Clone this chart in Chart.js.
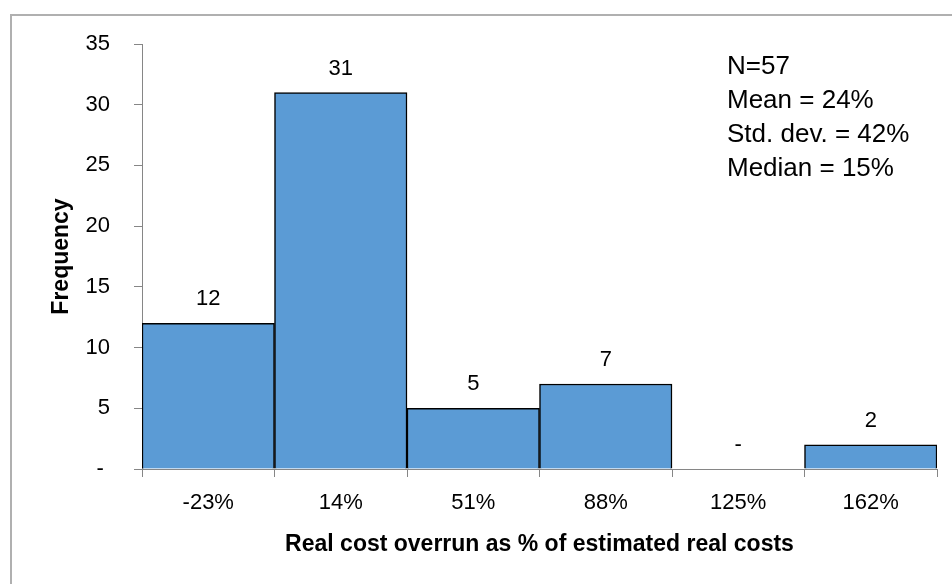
<!doctype html>
<html lang="en">
<head>
<meta charset="utf-8" />
<title>Real cost overrun histogram</title>
<style>
  html, body { margin: 0; padding: 0; background: #fff; }
  .chart-container { position: relative; width: 952px; height: 584px; }
</style>
</head>
<body>
<div class="chart-container">
  <canvas id="overrun" width="952" height="584"></canvas>
</div>
<script src="https://cdn.jsdelivr.net/npm/chart.js@4.4.1/dist/chart.umd.min.js"></script>
<script>
const categories = ["-23%", "14%", "51%", "88%", "125%", "162%"];
const frequencies = [12, 31, 5, 7, 0, 2];
const yTicks = [0, 5, 10, 15, 20, 25, 30, 35];
const statsLines = ["N=57", "Mean = 24%", "Std. dev. = 42%", "Median = 15%"];
const xTitle = "Real cost overrun as % of estimated real costs";
const yTitle = "Frequency";

const family = "'Liberation Sans', Arial, sans-serif";
const axisGray = "#868686";

// outer frame around the whole chart, like the Excel chart border
const framePlugin = {
  id: "frame",
  beforeDraw(chart) {
    const ctx = chart.ctx;
    ctx.save();
    ctx.strokeStyle = "#b0b0b0";
    ctx.lineWidth = 2;
    ctx.strokeRect(11, 15, 1000, 1000);
    ctx.restore();
  }
};

// value labels above each bar, "-" for empty bins
const valueLabels = {
  id: "valueLabels",
  afterDatasetsDraw(chart) {
    const ctx = chart.ctx;
    const meta = chart.getDatasetMeta(0);
    ctx.save();
    ctx.font = "22px " + family;
    ctx.fillStyle = "#000";
    ctx.textAlign = "center";
    ctx.textBaseline = "alphabetic";
    meta.data.forEach((bar, i) => {
      const v = frequencies[i];
      ctx.fillText(v === 0 ? "-" : String(v), bar.x, bar.y - 18);
    });
    ctx.restore();
  }
};

// summary statistics block, top right
const statsBox = {
  id: "statsBox",
  afterDraw(chart) {
    const ctx = chart.ctx;
    ctx.save();
    ctx.font = "26px " + family;
    ctx.fillStyle = "#000";
    ctx.textAlign = "left";
    ctx.textBaseline = "alphabetic";
    statsLines.forEach((line, i) => {
      ctx.fillText(line, 727, 73.5 + i * 34.3);
    });
    ctx.restore();
  }
};

const ctx = document.getElementById("overrun");
new Chart(ctx, {
  type: "bar",
  data: {
    labels: categories,
    datasets: [{
      data: frequencies,
      backgroundColor: "#5b9bd5",
      borderColor: "#000",
      borderWidth: 1.5,
      categoryPercentage: 1,
      barPercentage: 1
    }]
  },
  options: {
    responsive: false,
    animation: false,
    devicePixelRatio: 1,
    layout: { padding: { left: 0, top: 44, right: 15, bottom: 0 } },
    plugins: {
      legend: { display: false },
      tooltip: { enabled: false }
    },
    scales: {
      x: {
        offset: true,
        grid: {
          offset: true,
          drawOnChartArea: false,
          drawTicks: true,
          tickLength: 8,
          color: axisGray
        },
        border: { display: true, color: axisGray, width: 1 },
        ticks: {
          color: "#000",
          font: { size: 22, family: family },
          padding: 13,
          maxRotation: 0,
          autoSkip: false
        },
        title: {
          display: true,
          text: xTitle,
          color: "#000",
          font: { size: 23, weight: "bold", family: family },
          padding: { top: 0, bottom: 26 }
        },
        afterFit(scale) {
          scale.height = 115;
          scale.paddingLeft = 0;
          scale.paddingRight = 0;
        }
      },
      y: {
        min: 0,
        max: 35,
        afterBuildTicks(scale) {
          scale.ticks = yTicks.map((v) => ({ value: v }));
        },
        grid: {
          drawOnChartArea: false,
          drawTicks: true,
          tickLength: 8,
          color: axisGray
        },
        border: { display: true, color: axisGray, width: 1 },
        ticks: {
          color: "#000",
          font: { size: 22, family: family },
          padding: 24,
          callback: (v) => (v === 0 ? "- " : String(v))
        },
        title: {
          display: true,
          text: yTitle,
          color: "#000",
          font: { size: 23, weight: "bold", family: family },
          padding: { top: 48, bottom: 0 }
        },
        afterFit(scale) {
          scale.width = 142;
          scale.paddingTop = 0;
          scale.paddingBottom = 0;
        }
      }
    }
  },
  plugins: [framePlugin, valueLabels, statsBox]
});
</script>
</body>
</html>
